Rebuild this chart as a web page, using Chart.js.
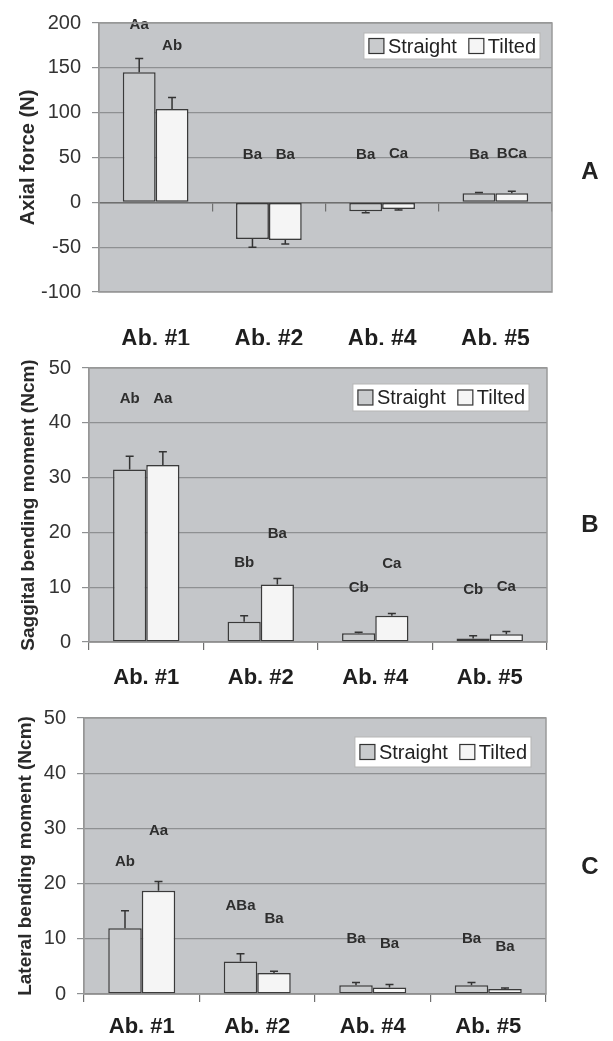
<!DOCTYPE html>
<html>
<head>
<meta charset="utf-8">
<script src="https://cdn.jsdelivr.net/npm/chart.js@4/dist/chart.umd.min.js"></script>
<style>
  html,body{margin:0;padding:0;background:#fff;}
  body{width:613px;height:1041px;position:relative;overflow:hidden;}
  canvas{position:absolute;left:0;}
</style>
</head>
<body>
<canvas id="cA" width="613" height="345" style="top:0px"></canvas>
<canvas id="cB" width="613" height="350" style="top:345px"></canvas>
<canvas id="cC" width="613" height="346" style="top:695px"></canvas>
<script>
// ---------- DATA ----------
const categories = ['Ab. #1', 'Ab. #2', 'Ab. #4', 'Ab. #5'];
const seriesNames = ['Straight', 'Tilted'];

// Panel A: Axial force (N)
const axialStraight    = [145, -41, -10, 10];
const axialStraightErr = [15.5, 9, 1.5, 1];
const axialTilted      = [104, -42, -7.5, 10];
const axialTiltedErr   = [13, 4.5, 1, 2.5];
const axialStraightLetters = ['Aa', 'Ba', 'Ba', 'Ba'];
const axialStraightLetterAt = [198, 53, 53, 53];
const axialTiltedLetters = ['Ab', 'Ba', 'Ca', 'BCa'];
const axialTiltedLetterAt = [174, 53, 54, 54];
const axialTicks = [-100, -50, 0, 50, 100, 150, 200];

// Panel B: Saggital bending moment (Ncm)
const sagStraight    = [31.5, 3.7, 1.6, 0.65];
const sagStraightErr = [2.4, 1.1, 0.2, 0.5];
const sagTilted      = [32.3, 10.5, 4.8, 1.4];
const sagTiltedErr   = [2.4, 1.1, 0.4, 0.5];
const sagStraightLetters = ['Ab', 'Bb', 'Cb', 'Cb'];
const sagStraightLetterAt = [44.3, 14.4, 9.8, 9.5];
const sagTiltedLetters = ['Aa', 'Ba', 'Ca', 'Ca'];
const sagTiltedLetterAt = [44.3, 19.8, 14.2, 10];
const momentTicks = [0, 10, 20, 30, 40, 50];

// Panel C: Lateral bending moment (Ncm)
const latStraight    = [11.9, 5.9, 1.6, 1.6];
const latStraightErr = [3.2, 1.4, 0.5, 0.5];
const latTilted      = [18.7, 3.8, 1.2, 0.9];
const latTiltedErr   = [1.7, 0.3, 0.5, 0.2];
const latStraightLetters = ['Ab', 'ABa', 'Ba', 'Ba'];
const latStraightLetterAt = [24, 16, 10, 10];
const latTiltedLetters = ['Aa', 'Ba', 'Ba', 'Ba'];
const latTiltedLetterAt = [29.6, 13.6, 9.1, 8.6];

// ---------- STYLE ----------
const FONT = "'Liberation Sans', Arial, Helvetica, sans-serif";
const PLOT_BG = '#c4c6c9';
const STRAIGHT_FILL = '#c9cbcd';
const TILTED_FILL = '#f5f5f5';
const BAR_EDGE = '#3a3a3a';
const GRID = '#8e9092';
const TEXT = '#2e2e2e';

const decorPlugin = {
  id: 'decor',
  beforeDraw(chart, args, o) {
    const {ctx, chartArea: a} = chart;
    ctx.save();
    ctx.fillStyle = PLOT_BG;
    ctx.fillRect(a.left, a.top, a.right - a.left, a.bottom - a.top);
    ctx.restore();
  },
  afterDatasetsDraw(chart, args, o) {
    const {ctx} = chart;
    const yScale = chart.scales.y;
    ctx.save();
    chart.data.datasets.forEach((ds, di) => {
      const meta = chart.getDatasetMeta(di);
      meta.data.forEach((bar, i) => {
        const v = ds.data[i];
        const e = ds.errors[i];
        const yEnd = yScale.getPixelForValue(v + (v >= 0 ? e : -e));
        ctx.strokeStyle = '#333';
        ctx.lineWidth = 1.5;
        ctx.beginPath();
        ctx.moveTo(bar.x, bar.y);
        ctx.lineTo(bar.x, yEnd);
        ctx.moveTo(bar.x - 4, yEnd);
        ctx.lineTo(bar.x + 4, yEnd);
        ctx.stroke();
        // significance letters
        ctx.fillStyle = TEXT;
        ctx.font = 'bold 15px ' + FONT;
        ctx.textAlign = 'center';
        ctx.textBaseline = 'middle';
        ctx.fillText(ds.letters[i], bar.x, yScale.getPixelForValue(ds.letterAt[i]));
      });
    });
    ctx.restore();
  },
  afterDraw(chart, args, o) {
    const {ctx, chartArea: a} = chart;
    ctx.save();
    // plot border
    ctx.strokeStyle = '#9a9a9a';
    ctx.lineWidth = 1.5;
    ctx.strokeRect(a.left, a.top, a.right - a.left, a.bottom - a.top);
    // legend
    ctx.font = '20px ' + FONT;
    const sq = 15, pad = 5, gapT = 4, gapI = 12;
    const items = chart.data.datasets.map(d => ({t: d.label, c: d.backgroundColor}));
    let w = pad;
    items.forEach((it, k) => { w += sq + gapT + ctx.measureText(it.t).width + (k < items.length - 1 ? gapI : 4); });
    const x0 = a.right - o.legendRight - w;
    const y0 = a.top + o.legendTop;
    const h = o.legendH;
    ctx.fillStyle = '#ffffff';
    ctx.fillRect(x0, y0, w, h);
    ctx.strokeStyle = '#b5b5b5';
    ctx.lineWidth = 1;
    ctx.strokeRect(x0, y0, w, h);
    let x = x0 + pad;
    const cy = y0 + h / 2;
    items.forEach((it) => {
      ctx.fillStyle = it.c;
      ctx.fillRect(x, cy - sq / 2, sq, sq);
      ctx.strokeStyle = '#333';
      ctx.lineWidth = 1.2;
      ctx.strokeRect(x, cy - sq / 2, sq, sq);
      x += sq + gapT;
      ctx.fillStyle = '#222';
      ctx.textAlign = 'left';
      ctx.textBaseline = 'middle';
      ctx.fillText(it.t, x, cy + 1);
      x += ctx.measureText(it.t).width + gapI;
    });
    // panel letter
    ctx.fillStyle = '#222';
    ctx.font = 'bold 24px ' + FONT;
    ctx.textAlign = 'center';
    ctx.textBaseline = 'middle';
    ctx.fillText(o.letter, 590, o.letterY);
    ctx.restore();
  }
};

function makePanel(id, p) {
  const datasets = [
    {label: seriesNames[0], data: p.s, errors: p.se, letters: p.sl, letterAt: p.sla,
     backgroundColor: STRAIGHT_FILL, borderColor: BAR_EDGE, borderWidth: 1.5, borderSkipped: false},
    {label: seriesNames[1], data: p.t, errors: p.te, letters: p.tl, letterAt: p.tla,
     backgroundColor: TILTED_FILL, borderColor: BAR_EDGE, borderWidth: 1.5, borderSkipped: false}
  ];
  const scales = {
    x: {
      type: 'category',
      offset: true,
      afterFit: s => { s.height = p.xH; },
      grid: p.zeroAxis ? {display: false} :
        {display: true, drawOnChartArea: false, drawTicks: true, tickLength: 8, offset: true, color: '#6f6f6f', lineWidth: 1.2},
      border: {display: !p.zeroAxis, color: '#6f6f6f', width: 1.5},
      ticks: {color: '#1e1e1e', font: {family: FONT, size: p.catSize, weight: 'bold'}, padding: p.catPad, maxRotation: 0, autoSkip: false}
    },
    y: {
      min: p.min, max: p.max,
      afterFit: s => { s.width = p.left; },
      afterBuildTicks: s => { s.ticks = p.ticks.map(v => ({value: v})); },
      grid: {color: GRID, lineWidth: 1.2, tickLength: 7, drawTicks: true},
      border: {display: true, color: '#8a8a8a', width: 1.2},
      ticks: {color: '#333', font: {family: FONT, size: 20}, padding: 11},
      title: {display: true, text: p.title, color: '#2a2a2a', font: {family: FONT, size: p.titleSize, weight: 'bold'}, padding: {top: p.titlePad, bottom: 0}}
    }
  };
  if (p.zeroAxis) {
    scales.x2 = {
      type: 'category', axis: 'x', position: {y: 0}, offset: true,
      grid: {display: true, drawOnChartArea: false, drawTicks: true, tickLength: 8, offset: true, color: '#6f6f6f', lineWidth: 1.2},
      border: {display: true, color: '#6f6f6f', width: 1.5},
      ticks: {display: false}
    };
  }
  return new Chart(document.getElementById(id), {
    type: 'bar',
    data: {labels: categories, datasets},
    options: {
      responsive: false,
      animation: false,
      devicePixelRatio: 1,
      categoryPercentage: 0.58,
      barPercentage: 1.0,
      layout: {padding: {top: p.top, right: p.right, bottom: 0, left: 0}},
      plugins: {
        legend: {display: false},
        tooltip: {enabled: false},
        decor: {legendRight: p.legRight, legendTop: p.legTop, legendH: p.legH, letter: p.letter, letterY: p.letterY}
      },
      scales
    },
    plugins: [decorPlugin]
  });
}

makePanel('cA', {
  s: axialStraight, se: axialStraightErr, t: axialTilted, te: axialTiltedErr,
  sl: axialStraightLetters, sla: axialStraightLetterAt, tl: axialTiltedLetters, tla: axialTiltedLetterAt,
  min: -100, max: 200, ticks: axialTicks, title: 'Axial force (N)', titleSize: 20, titlePad: 16,
  left: 99, right: 61, top: 17, xH: 53, catSize: 23, catPad: 26, zeroAxis: true,
  legRight: 12, legTop: 10, legH: 26, letter: 'A', letterY: 172
});
makePanel('cB', {
  s: sagStraight, se: sagStraightErr, t: sagTilted, te: sagTiltedErr,
  sl: sagStraightLetters, sla: sagStraightLetterAt, tl: sagTiltedLetters, tla: sagTiltedLetterAt,
  min: 0, max: 50, ticks: momentTicks, title: 'Saggital bending moment (Ncm)', titleSize: 19, titlePad: 17,
  left: 89, right: 66, top: 21, xH: 53, catSize: 22, catPad: 15, zeroAxis: false,
  legRight: 18, legTop: 16, legH: 27, letter: 'B', letterY: 180
});
makePanel('cC', {
  s: latStraight, se: latStraightErr, t: latTilted, te: latTiltedErr,
  sl: latStraightLetters, sla: latStraightLetterAt, tl: latTiltedLetters, tla: latTiltedLetterAt,
  min: 0, max: 50, ticks: momentTicks, title: 'Lateral bending moment (Ncm)', titleSize: 19, titlePad: 14,
  left: 84, right: 67, top: 15, xH: 47, catSize: 22, catPad: 12, zeroAxis: false,
  legRight: 15, legTop: 19, legH: 30, letter: 'C', letterY: 172
});
</script>
</body>
</html>
